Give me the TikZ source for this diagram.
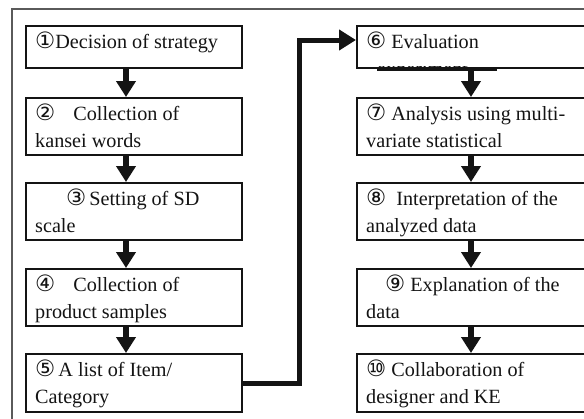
\documentclass[tikz,border=0pt]{standalone}
\usepackage{fontspec}
\setmainfont{Liberation Serif}
\newfontfamily\circfont{DejaVu Sans}
\usetikzlibrary{arrows.meta}
\newcommand{\cn}[1]{{\circfont\fontsize{22.5}{27}\selectfont #1}}
\newcommand{\lst}{\rule{0pt}{18pt}\rule[-7pt]{0pt}{7pt}}
\definecolor{frame}{RGB}{90,90,90}
\definecolor{ink}{RGB}{20,20,20}
\tikzset{
  stepbox/.style={draw=ink, line width=2pt, fill=white, rectangle, inner sep=0pt},
  lbox/.style={stepbox, minimum width=216pt},
  rbox/.style={stepbox, minimum width=234pt},
  oneh/.style={minimum height=42pt},
  twoh/.style={minimum height=57pt},
  txt/.style={anchor=north west, inner sep=0pt, align=left, text=ink,
              font=\fontsize{20.2}{27}\selectfont},
  varrow/.style={line width=6pt, ink, -{Triangle[length=16pt,width=19pt]}},
  conn/.style={line width=5pt, ink, line join=miter, -{Triangle[length=17pt,width=20pt]}}
}
\begin{document}
\begin{tikzpicture}[x=1pt,y=-1pt]
\useasboundingbox (0,0) rectangle (584,418);
\clip (0,0) rectangle (584,418);
\fill[white] (0,0) rectangle (584,418);
% outer frame
\draw[frame, line width=1.6pt] (12,430) -- (12,9) -- (600,9);
% left column boxes
\node[lbox, oneh, anchor=north west] (b1) at (25,25) {};
\node[lbox, twoh, anchor=north west] (b2) at (25,97) {};
\node[lbox, twoh, anchor=north west] (b3) at (25,182) {};
\node[lbox, twoh, anchor=north west] (b4) at (25,268) {};
\node[lbox, minimum height=58pt, anchor=north west] (b5) at (25,353) {};
% right column boxes
\node[rbox, oneh, anchor=north west] (b6) at (356,25) {};
\node[rbox, twoh, anchor=north west] (b7) at (356,97) {};
\node[rbox, twoh, anchor=north west] (b8) at (356,182) {};
\node[rbox, twoh, anchor=north west] (b9) at (356,268) {};
\node[rbox, minimum height=58pt, anchor=north west] (b10) at (356,353) {};
% texts
\node[txt] (t1) at (35,30) {\lst\cn{①}Decision of strategy};
\node[txt] (t2) at (35,102) {\lst\cn{②}\hspace{18pt}Collection of\\\lst kansei words};
\node[txt] (t3) at (35,187) {\lst\hspace{31pt}\cn{③}\hspace{3pt}Setting of SD\\\lst scale};
\node[txt] (t4) at (35,273) {\lst\cn{④}\hspace{18pt}Collection of\\\lst product samples};
\node[txt] (t5) at (35,358) {\lst\cn{⑤}\hspace{3pt}A list of Item/\\\lst Category};
\node[txt] (t6) at (366,30) {\lst\cn{⑥}\hspace{5pt}Evaluation};
\node[txt] (t7) at (366,102) {\lst\cn{⑦}\hspace{5pt}Analysis using multi-\\\lst variate statistical};
\node[txt] (t8) at (366,187) {\lst\cn{⑧}\hspace{10pt}Interpretation of the\\\lst analyzed data};
\node[txt] (t9) at (366,273) {\lst\hspace{19pt}\cn{⑨}\hspace{5pt}Explanation of the\\\lst data};
\node[txt] (t10) at (366,358) {\lst\cn{⑩}\hspace{5pt}Collaboration of\\\lst designer and KE};
% hidden second line of box 6
\begin{scope}
  \clip (358,66.5) rectangle (584,70);
  \node[txt, anchor=base west] (t6b) at (377,75) {experiment};
\end{scope}
\draw[ink, line width=1.5pt] (377,70) -- (497,70);
% vertical arrows
\coordinate (axl) at (126,0);
\coordinate (axr) at (471,0);
\draw[varrow] (b1.south -| axl) -- (b2.north -| axl);
\draw[varrow] (b2.south -| axl) -- (b3.north -| axl);
\draw[varrow] (b3.south -| axl) -- (b4.north -| axl);
\draw[varrow] (b4.south -| axl) -- (b5.north -| axl);
\draw[varrow] (b6.south -| axr) -- (b7.north -| axr);
\draw[varrow] (b7.south -| axr) -- (b8.north -| axr);
\draw[varrow] (b8.south -| axr) -- (b9.north -| axr);
\draw[varrow] (b9.south -| axr) -- (b10.north -| axr);
% connector from 5 to 6
\coordinate (turn) at (299,40);
\draw[conn] (b5.east) -| (turn) -- (b6.west |- turn);
\end{tikzpicture}
\end{document}
